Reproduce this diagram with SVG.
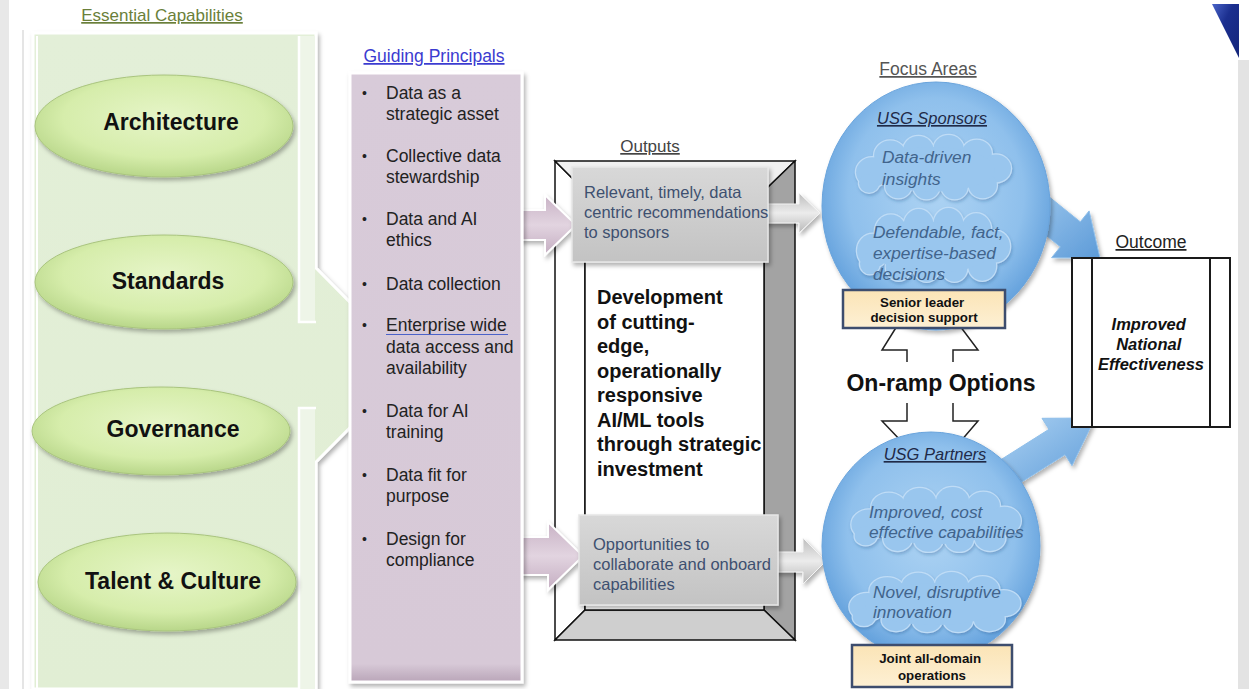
<svg xmlns="http://www.w3.org/2000/svg" xmlns:xlink="http://www.w3.org/1999/xlink" width="1249" height="689" viewBox="0 0 1249 689">
<style>
text{font-family:"Liberation Sans",Arial,Helvetica,sans-serif}
.cap{font-size:23px;font-weight:bold;fill:#111;text-anchor:middle}
.title{font-size:17.5px;text-decoration:underline}
.gp{font-size:17.5px;fill:#222}
.bul{font-size:14px;fill:#222}
.out{font-size:16.5px;fill:#3e5070}
.dev{font-size:20px;font-weight:bold;fill:#111}
.focus{font-size:16.5px;font-style:italic;fill:#1f2a48;text-decoration:underline;text-anchor:middle}
.cloudtxt{font-size:17.3px;font-style:italic;fill:#41648c}
.ylw{font-size:13.3px;font-weight:bold;fill:#111;text-anchor:middle}
.bracket{fill:none;stroke:#222;stroke-width:1.5}
.bevel{stroke:#111;stroke-width:1.5;stroke-linejoin:miter}
.cap-ell{fill:url(#gEll);stroke:#a9c47e;stroke-width:1}
.graybox{fill:url(#gGray);stroke:#e6e6e6;stroke-width:1.5}
.yellowbox{fill:url(#gYel);stroke:#3d4d6e;stroke-width:2.5}
.focus-ell{fill:url(#gBlue);stroke:#6aa4dc;stroke-width:1}
.parrow{fill:url(#gPurpArrow);stroke:#fff;stroke-width:2}
.garrow{fill:url(#gGrayArrow);stroke:#f4f4f4;stroke-width:1}
.barrow{fill:url(#gBlueArrow);stroke:#8fbfea;stroke-width:1}
</style>
<defs>
  <filter id="shadow" x="-20%" y="-20%" width="140%" height="140%">
    <feDropShadow dx="2" dy="3" stdDeviation="2" flood-color="#000" flood-opacity="0.3"/>
  </filter>
  <filter id="softShadow" x="-20%" y="-20%" width="140%" height="140%">
    <feDropShadow dx="1" dy="2" stdDeviation="1.5" flood-color="#1d4f86" flood-opacity="0.3"/>
  </filter>
  <radialGradient id="gEll" cx="50%" cy="42%" r="60%">
    <stop offset="0" stop-color="#e6f5c8"/>
    <stop offset="0.65" stop-color="#d6edab"/>
    <stop offset="1" stop-color="#b5d486"/>
  </radialGradient>
  <linearGradient id="gPanel" x1="0" y1="0" x2="0" y2="1">
    <stop offset="0" stop-color="#e3efd8"/>
    <stop offset="1" stop-color="#e1eed4"/>
  </linearGradient>
  <linearGradient id="gPurple" x1="0" y1="0" x2="0" y2="1">
    <stop offset="0" stop-color="#d8cbd9"/>
    <stop offset="0.97" stop-color="#d7c9d7"/>
    <stop offset="1" stop-color="#b9a5b8"/>
  </linearGradient>
  <linearGradient id="gPurpArrow" x1="0" y1="0" x2="0" y2="1">
    <stop offset="0" stop-color="#c8b2c5"/>
    <stop offset="0.5" stop-color="#e2d4e0"/>
    <stop offset="1" stop-color="#c4adc1"/>
  </linearGradient>
  <linearGradient id="gGray" x1="0" y1="0" x2="0" y2="1">
    <stop offset="0" stop-color="#d8d8d8"/>
    <stop offset="1" stop-color="#c3c3c3"/>
  </linearGradient>
  <linearGradient id="gGrayArrow" x1="0" y1="0" x2="0" y2="1">
    <stop offset="0" stop-color="#bdbdbd"/>
    <stop offset="0.5" stop-color="#ececec"/>
    <stop offset="1" stop-color="#b8b8b8"/>
  </linearGradient>
  <linearGradient id="gYel" x1="0" y1="0" x2="0" y2="1">
    <stop offset="0" stop-color="#fbe4b6"/>
    <stop offset="1" stop-color="#fdf0d4"/>
  </linearGradient>
  <radialGradient id="gBlue" cx="50%" cy="45%" r="55%">
    <stop offset="0" stop-color="#add3f3"/>
    <stop offset="0.7" stop-color="#8fc0ec"/>
    <stop offset="1" stop-color="#62a0dc"/>
  </radialGradient>
  <linearGradient id="gBlueArrow" x1="0" y1="0" x2="1" y2="1">
    <stop offset="0" stop-color="#aed3f3"/>
    <stop offset="1" stop-color="#5d9bd8"/>
  </linearGradient>
  <linearGradient id="gTri" x1="0" y1="0" x2="1" y2="1">
    <stop offset="0" stop-color="#4a64c8"/>
    <stop offset="0.4" stop-color="#1b2f8f"/>
    <stop offset="1" stop-color="#14257a"/>
  </linearGradient>
  <!-- cloud outline built from overlapping bumps: stroked layer below, plain fill above -->
  <g id="cloud">
    <g fill="#99c6ee" stroke="#bfdcf6" stroke-width="2.5">
      <circle cx="20" cy="40" r="16" vector-effect="non-scaling-stroke"/>
      <circle cx="38" cy="22" r="16" vector-effect="non-scaling-stroke"/>
      <circle cx="66" cy="16" r="15" vector-effect="non-scaling-stroke"/>
      <circle cx="96" cy="15" r="15" vector-effect="non-scaling-stroke"/>
      <circle cx="124" cy="20" r="15" vector-effect="non-scaling-stroke"/>
      <circle cx="143" cy="36" r="15" vector-effect="non-scaling-stroke"/>
      <circle cx="130" cy="54" r="14" vector-effect="non-scaling-stroke"/>
      <circle cx="102" cy="56" r="13" vector-effect="non-scaling-stroke"/>
      <circle cx="74" cy="56" r="13" vector-effect="non-scaling-stroke"/>
      <circle cx="46" cy="55" r="13" vector-effect="non-scaling-stroke"/>
      <circle cx="17" cy="52" r="10" vector-effect="non-scaling-stroke"/>
    </g>
    <g fill="#99c6ee">
      <circle cx="20" cy="40" r="16"/>
      <circle cx="38" cy="22" r="16"/>
      <circle cx="66" cy="16" r="15"/>
      <circle cx="96" cy="15" r="15"/>
      <circle cx="124" cy="20" r="15"/>
      <circle cx="143" cy="36" r="15"/>
      <circle cx="130" cy="54" r="14"/>
      <circle cx="102" cy="56" r="13"/>
      <circle cx="74" cy="56" r="13"/>
      <circle cx="46" cy="55" r="13"/>
      <circle cx="17" cy="52" r="10"/>
      <ellipse cx="80" cy="37" rx="62" ry="24"/>
    </g>
  </g>
</defs>

<rect width="1249" height="689" fill="#fff"/>

<!-- page chrome -->
<g id="page-edges">
  <rect x="0" y="0" width="9" height="689" fill="#e8e8e8"/>
  <line x1="23" y1="30" x2="23" y2="689" stroke="#dcdcdc" stroke-width="1.5"/>
  <rect x="1238" y="60" width="11" height="629" fill="#e3e3e3"/>
  <polygon points="1212,4 1239,4 1239,58" fill="url(#gTri)"/>
</g>

<!-- Essential capabilities panel (right-arrow callout) -->
<g id="capabilities-panel">
  <text x="162" y="21" text-anchor="middle" font-size="17px" fill="#6a7f3a" text-decoration="underline">Essential Capabilities</text>
  <path d="M33,33 H316 V268 L412,365 L316,462 V689 H33 Z" fill="url(#gPanel)" stroke="#fff" stroke-width="3" filter="url(#shadow)"/>
  <rect x="300" y="36" width="15" height="286" fill="#eef5e8"/>
  <rect x="300" y="408" width="15" height="281" fill="#eef5e8"/>
  <path d="M299,36 V322 H316 M316,408 H299 V689" fill="none" stroke="#fff" stroke-width="2.5"/>
  <line x1="37" y1="36" x2="37" y2="689" stroke="#fff" stroke-width="2"/>
</g>

<!-- Outputs bevel frame -->
<g id="outputs-frame">
  <text x="650" y="152" text-anchor="middle" font-size="17px" fill="#444" text-decoration="underline">Outputs</text>
  <polygon class="bevel" points="555,161 585,191 585,610 555,640" fill="#fff"/>
  <polygon class="bevel" points="555,161 795,161 764,191 585,191" fill="#f0f0f0"/>
  <polygon class="bevel" points="795,161 795,640 764,610 764,191" fill="#a3a3a3"/>
  <polygon class="bevel" points="555,640 795,640 764,610 585,610" fill="#cfcfcf"/>
  <rect class="bevel" x="585" y="191" width="179" height="419" fill="#fff"/>
  <text class="dev">
    <tspan x="597" y="304">Development</tspan>
    <tspan x="597" y="328.5">of cutting-</tspan>
    <tspan x="597" y="353">edge,</tspan>
    <tspan x="597" y="377.5">operationally</tspan>
    <tspan x="597" y="402">responsive</tspan>
    <tspan x="597" y="427">AI/ML tools</tspan>
    <tspan x="597" y="451">through strategic</tspan>
    <tspan x="597" y="476">investment</tspan>
  </text>
</g>

<!-- Connectors -->
<g id="connectors">
  <!-- guiding principals to outputs -->
  <polygon class="parrow" points="515,210 545,210 545,195 576,225 545,255 545,240 515,240" filter="url(#shadow)"/>
  <polygon class="parrow" points="515,537 548,537 548,522 583,556 548,590 548,575 515,575" filter="url(#shadow)"/>
  <!-- outputs to focus areas -->
  <polygon class="garrow" points="760,204 799,204 799,193 820,213 799,233 799,223 760,223" filter="url(#shadow)"/>
  <polygon class="garrow" points="770,552 803,552 803,538 826,561 803,584 803,572 770,572" filter="url(#shadow)"/>
  <!-- focus areas to outcome -->
  <polygon class="barrow" points="1025,177.5 1080.3,221.8 1089.1,210.9 1100,258 1051.6,257.7 1060.3,246.8 1005,202.5" filter="url(#shadow)"/>
  <polygon class="barrow" points="992,465.3 1049,429.3 1042,418.3 1095,418 1072,465.7 1065,454.7 1008,490.7" filter="url(#shadow)"/>
  <!-- on-ramp options, up and down -->
  <path class="bracket" d="M897,326 L882,350 L907,350 L907,362"/>
  <path class="bracket" d="M960,326 L978,350 L953,350 L953,362"/>
  <path class="bracket" d="M907,403 L907,421 L882,421 L902,442"/>
  <path class="bracket" d="M953,403 L953,421 L978,421 L960,442"/>
</g>

<!-- Capability nodes -->
<g id="node-architecture">
  <ellipse class="cap-ell" cx="164" cy="126" rx="129" ry="51" filter="url(#shadow)"/>
  <text class="cap" x="171" y="130">Architecture</text>
</g>
<g id="node-standards">
  <ellipse class="cap-ell" cx="164" cy="282" rx="129" ry="47" filter="url(#shadow)"/>
  <text class="cap" x="168" y="289">Standards</text>
</g>
<g id="node-governance">
  <ellipse class="cap-ell" cx="161" cy="431" rx="129" ry="44" filter="url(#shadow)"/>
  <text class="cap" x="173" y="437">Governance</text>
</g>
<g id="node-talent-culture">
  <ellipse class="cap-ell" cx="167" cy="582" rx="129" ry="49" filter="url(#shadow)"/>
  <text class="cap" x="173" y="589">Talent &amp; Culture</text>
</g>

<!-- Guiding principals -->
<g id="node-guiding-principals">
  <text x="434" y="62" text-anchor="middle" class="title" fill="#3b3bd0">Guiding Principals</text>
  <rect x="350" y="73" width="172" height="609" fill="url(#gPurple)" stroke="#fff" stroke-width="3" filter="url(#shadow)"/>
  <g class="bul">
    <text x="362" y="98">•</text>
    <text x="362" y="161">•</text>
    <text x="362" y="224">•</text>
    <text x="362" y="289">•</text>
    <text x="362" y="330">•</text>
    <text x="362" y="416">•</text>
    <text x="362" y="480">•</text>
    <text x="362" y="544">•</text>
  </g>
  <text class="gp">
    <tspan x="386" y="99">Data as a</tspan>
    <tspan x="386" y="119.5">strategic asset</tspan>
    <tspan x="386" y="162">Collective data</tspan>
    <tspan x="386" y="182.5">stewardship</tspan>
    <tspan x="386" y="225">Data and AI</tspan>
    <tspan x="386" y="245.5">ethics</tspan>
    <tspan x="386" y="290">Data collection</tspan>
    <tspan x="386" y="331">Enterprise wide</tspan>
    <tspan x="386" y="352.5">data access and</tspan>
    <tspan x="386" y="374">availability</tspan>
    <tspan x="386" y="417">Data for AI</tspan>
    <tspan x="386" y="437.5">training</tspan>
    <tspan x="386" y="481">Data fit for</tspan>
    <tspan x="386" y="501.5">purpose</tspan>
    <tspan x="386" y="545">Design for</tspan>
    <tspan x="386" y="565.5">compliance</tspan>
  </text>
  <line x1="386" y1="334.5" x2="508" y2="334.5" stroke="#4b62c8" stroke-width="1.2"/>
</g>

<!-- Output items -->
<g id="node-output-recommendations">
  <rect class="graybox" x="572" y="167" width="196" height="95" filter="url(#shadow)"/>
  <text class="out">
    <tspan x="584" y="198">Relevant, timely, data</tspan>
    <tspan x="584" y="218">centric recommendations</tspan>
    <tspan x="584" y="238">to sponsors</tspan>
  </text>
</g>
<g id="node-output-opportunities">
  <rect class="graybox" x="579" y="515" width="199" height="90" filter="url(#shadow)"/>
  <text class="out">
    <tspan x="593" y="550">Opportunities to</tspan>
    <tspan x="593" y="570">collaborate and onboard</tspan>
    <tspan x="593" y="590">capabilities</tspan>
  </text>
</g>

<!-- Focus areas -->
<g id="node-usg-sponsors">
  <text x="928" y="75" text-anchor="middle" class="title" fill="#555">Focus Areas</text>
  <ellipse class="focus-ell" cx="936" cy="206" rx="114" ry="124" filter="url(#shadow)"/>
  <text class="focus" x="932" y="124">USG Sponsors</text>
  <use xlink:href="#cloud" href="#cloud" transform="translate(852,135) scale(1.006,0.93)" filter="url(#softShadow)"/>
  <text class="cloudtxt">
    <tspan x="882" y="163">Data-driven</tspan>
    <tspan x="882" y="185">insights</tspan>
  </text>
  <use xlink:href="#cloud" href="#cloud" transform="translate(853,208) scale(0.994,1.07)" filter="url(#softShadow)"/>
  <text class="cloudtxt">
    <tspan x="873" y="238">Defendable, fact,</tspan>
    <tspan x="873" y="259">expertise-based</tspan>
    <tspan x="873" y="280">decisions</tspan>
  </text>
  <rect class="yellowbox" x="843" y="290" width="162" height="38"/>
  <text class="ylw">
    <tspan x="924" y="307">Senior leader</tspan>
    <tspan x="924" y="322">decision support</tspan>
  </text>
</g>

<g id="node-on-ramp">
  <text x="941" y="391" text-anchor="middle" font-size="23px" font-weight="bold" fill="#111">On-ramp Options</text>
</g>

<g id="node-usg-partners">
  <ellipse class="focus-ell" cx="931" cy="546" rx="109" ry="114" filter="url(#shadow)"/>
  <text class="focus" x="935" y="460">USG Partners</text>
  <use xlink:href="#cloud" href="#cloud" transform="translate(847,487) scale(1.1,0.94)" filter="url(#softShadow)"/>
  <text class="cloudtxt">
    <tspan x="869" y="518">Improved, cost</tspan>
    <tspan x="869" y="538">effective capabilities</tspan>
  </text>
  <use xlink:href="#cloud" href="#cloud" transform="translate(845,572) scale(1.11,0.87)" filter="url(#softShadow)"/>
  <text class="cloudtxt">
    <tspan x="873" y="598">Novel, disruptive</tspan>
    <tspan x="873" y="618">innovation</tspan>
  </text>
  <rect class="yellowbox" x="852" y="645" width="160" height="42"/>
  <text class="ylw">
    <tspan x="932" y="663">Joint all-domain</tspan>
    <tspan x="932" y="680">operations</tspan>
  </text>
</g>

<!-- Outcome -->
<g id="node-outcome">
  <text x="1151" y="248" text-anchor="middle" class="title" fill="#222">Outcome</text>
  <rect x="1072" y="258" width="158" height="169" fill="#fff" stroke="#1a1a1a" stroke-width="2"/>
  <line x1="1092" y1="258" x2="1092" y2="427" stroke="#1a1a1a" stroke-width="2"/>
  <line x1="1210" y1="258" x2="1210" y2="427" stroke="#1a1a1a" stroke-width="2"/>
  <text text-anchor="middle" font-size="16.5px" font-weight="bold" font-style="italic" fill="#111">
    <tspan x="1151" y="330">Improved</tspan>
    <tspan x="1151" y="350">National</tspan>
    <tspan x="1151" y="370">Effectiveness</tspan>
  </text>
</g>
</svg>
